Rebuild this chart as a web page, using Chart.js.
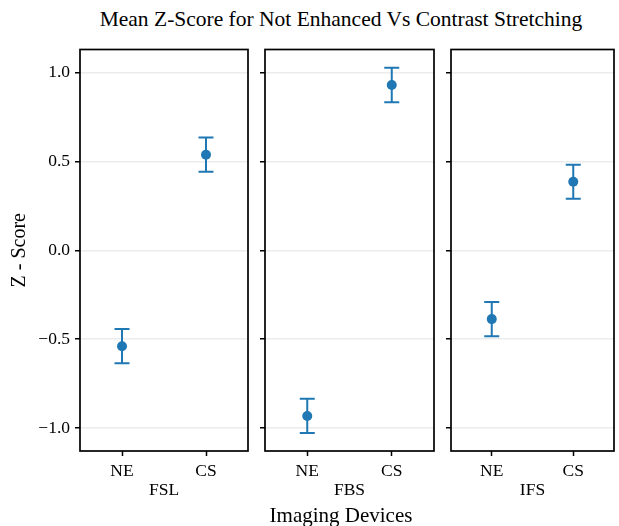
<!DOCTYPE html>
<html>
<head>
<meta charset="utf-8">
<script src="https://cdn.jsdelivr.net/npm/chart.js@4.4.1/dist/chart.umd.min.js"></script>
<style>
  body { margin: 0; background: #fff; }
  #wrap { position: relative; width: 619px; height: 526px; overflow: hidden; font-family: "Liberation Serif", "Times New Roman", serif; }
  canvas { position: absolute; left: 0; top: 0; }
  .lbl { position: absolute; white-space: nowrap; text-align: center; color: #000; line-height: 24px; }
</style>
</head>
<body>
<div id="wrap">
  <div class="lbl" style="left:41px; width:600px; top:7px; font-size:21.5px;">Mean Z-Score for Not Enhanced Vs Contrast Stretching</div>
  <canvas id="c0" width="619" height="526"></canvas>
  <canvas id="c1" width="619" height="526"></canvas>
  <canvas id="c2" width="619" height="526"></canvas>
  <div class="lbl" style="left:141px; width:400px; top:503px; font-size:21px;">Imaging Devices</div>
</div>
<script>
// data
const categories = ["NE", "CS"];
const devices = ["FSL", "FBS", "IFS"];
const meanFSL = [-0.539, 0.537];
const meanFBS = [-0.931, 0.929];
const meanIFS = [-0.387, 0.385];
const errFSL = [0.096, 0.096];
const errFBS = [0.096, 0.097];
const errIFS = [0.096, 0.096];
const yTicks = [-1, -0.5, 0, 0.5, 1];

const means = [meanFSL, meanFBS, meanIFS];
const errs = [errFSL, errFBS, errIFS];

const blue = "#1f77b4";
const serif = "'Liberation Serif', 'Times New Roman', serif";
// panel left/right edges in px
const panels = [[80, 248], [265, 434], [451, 618]];

const errorBars = {
  id: "errorBars",
  beforeDatasetsDraw(chart) {
    const ctx = chart.ctx;
    const xs = chart.scales.x, ys = chart.scales.y;
    const ds = chart.data.datasets[0];
    ctx.save();
    ctx.strokeStyle = blue;
    ctx.lineWidth = 2;
    ds.data.forEach((v, i) => {
      const e = ds.err[i];
      const x = xs.getPixelForValue(i);
      const y1 = ys.getPixelForValue(v + e);
      const y2 = ys.getPixelForValue(v - e);
      ctx.beginPath();
      ctx.moveTo(x, y1); ctx.lineTo(x, y2);
      ctx.moveTo(x - 7.5, y1); ctx.lineTo(x + 7.5, y1);
      ctx.moveTo(x - 7.5, y2); ctx.lineTo(x + 7.5, y2);
      ctx.stroke();
    });
    ctx.restore();
  }
};

const frame = {
  id: "frame",
  afterDraw(chart) {
    const a = chart.chartArea, ctx = chart.ctx;
    ctx.save();
    ctx.strokeStyle = "#000";
    ctx.lineWidth = 1.7;
    ctx.strokeRect(a.left, a.top, a.right - a.left, a.bottom - a.top);
    ctx.restore();
  }
};

function fmt(v) {
  return v < 0 ? "\u2212" + Math.abs(v).toFixed(1) : v.toFixed(1);
}

panels.forEach(([L, R], p) => {
  const first = p === 0;
  const padLeft = first ? 0 : L - 10;
  new Chart(document.getElementById("c" + p), {
    type: "line",
    data: {
      labels: categories,
      datasets: [{
        data: means[p],
        err: errs[p],
        showLine: false,
        pointRadius: 5,
        pointHoverRadius: 5,
        pointBackgroundColor: blue,
        pointBorderColor: blue,
        pointBorderWidth: 0
      }]
    },
    options: {
      responsive: false,
      animation: false,
      events: [],
      layout: { padding: { left: padLeft, right: 619 - R, top: 49.5, bottom: 0 } },
      plugins: { legend: { display: false }, tooltip: { enabled: false } },
      scales: {
        x: {
          type: "category",
          offset: true,
          afterFit: s => { s.height = 75; },
          grid: { drawOnChartArea: false, drawTicks: true, tickLength: 5, tickColor: "#000", tickWidth: 1.5 },
          border: { display: false },
          ticks: { color: "#000", padding: 5, font: { family: serif, size: 17.5 } },
          title: { display: true, text: devices[p], color: "#000", padding: { top: 0, bottom: 25 }, font: { family: serif, size: 17.5 } }
        },
        y: {
          min: -1.128,
          max: 1.128,
          afterBuildTicks: s => { s.ticks = yTicks.map(v => ({ value: v })); },
          afterFit: s => { s.width = L - padLeft; },
          grid: { color: "#ececec", lineWidth: 1.5, tickLength: 5, tickColor: "#000", tickWidth: 1.5 },
          border: { display: false },
          ticks: {
            color: "#000",
            padding: 5,
            font: { family: serif, size: 17.5 },
            callback: v => first ? fmt(v) : ""
          },
          title: { display: first, text: "Z - Score", color: "#000", padding: { top: 8, bottom: 0 }, font: { family: serif, size: 20 } }
        }
      }
    },
    plugins: [errorBars, frame]
  });
});
</script>
</body>
</html>
